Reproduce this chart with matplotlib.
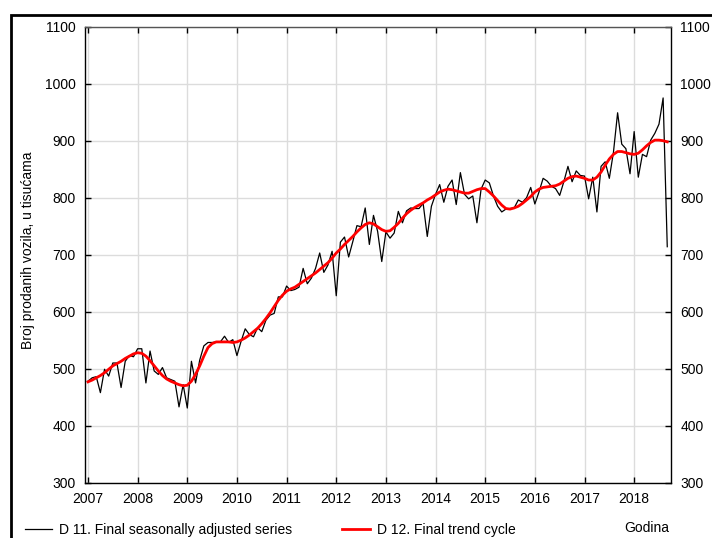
import matplotlib.pyplot as plt
import numpy as np
from matplotlib.patches import Rectangle

plt.rcParams['font.family'] = ['Liberation Sans', 'DejaVu Sans']
plt.rcParams['font.size'] = 10

# D 11 - final seasonally adjusted series, monthly, Jan 2007 - Sep 2018
d11 = [
    478, 484, 486, 458, 499, 487, 510, 510, 467, 513, 523, 521,   # 2007
    535, 535, 475, 531, 496, 490, 502, 484, 481, 478, 433, 472,   # 2008
    431, 513, 475, 515, 540, 546, 546, 547, 547, 557, 546, 551,   # 2009
    523, 548, 570, 560, 556, 572, 565, 585, 594, 597, 626, 626,   # 2010
    645, 637, 639, 643, 676, 649, 659, 676, 703, 669, 682, 706,   # 2011
    628, 722, 731, 696, 723, 751, 749, 782, 718, 769, 741, 688,   # 2012
    740, 729, 738, 776, 756, 777, 782, 781, 781, 790, 732, 785,   # 2013
    806, 823, 792, 820, 831, 788, 844, 806, 798, 803, 756, 815,   # 2014
    831, 826, 803, 785, 775, 780, 781, 782, 796, 792, 800, 818,   # 2015
    789, 810, 834, 829, 820, 816, 804, 828, 855, 828, 847, 839,   # 2016
    838, 798, 836, 775, 855, 863, 834, 880, 949, 894, 886, 842,   # 2017
    916, 836, 876, 872, 901, 913, 929, 975, 714,                  # 2018
]

# D 12 - final trend cycle
d12 = [
    477, 480, 484, 488, 493, 499, 505, 509, 513, 518, 522, 526,
    528, 527, 522, 514, 505, 496, 488, 482, 478, 475, 472, 470,
    471, 478, 490, 505, 522, 537, 544, 547, 547, 547, 547, 546,
    547, 550, 554, 559, 565, 571, 579, 588, 598, 609, 620, 629,
    636, 640, 643, 648, 653, 658, 663, 668, 674, 680, 686, 694,
    703, 710, 718, 725, 732, 740, 747, 753, 756, 754, 749, 744,
    741, 742, 748, 755, 764, 772, 778, 783, 787, 791, 796, 800,
    805, 810, 813, 815, 814, 812, 810, 808, 808, 811, 814, 816,
    816, 810, 803, 795, 787, 781, 780, 782, 785, 790, 796, 802,
    810, 815, 818, 819, 820, 821, 824, 829, 834, 837, 838, 836,
    834, 831, 831, 836, 845, 857, 868, 876, 881, 881, 879, 877,
    876, 878, 884, 891, 897, 901, 901, 900, 898,
]

years = list(range(2007, 2019))
t = 2007 + np.arange(len(d11)) / 12.0

fig = plt.figure(figsize=(7.12, 5.38), dpi=100)
ax = fig.add_axes([85.3 / 712, 1 - 482.7 / 538, 585.4 / 712, 456 / 538])

ax.plot(t, d11, color='black', lw=0.9, label='D 11. Final seasonally adjusted series')
ax.plot(t, d12, color='#ff0000', lw=2.0, label='D 12. Final trend cycle')

ax.set_xlim(2006.946, 2018.736)
ax.set_ylim(300, 1100)
ax.set_xticks(years)
ax.set_yticks(range(300, 1101, 100))
ax.grid(True, color='#dcdcdc', lw=1.0)
ax.set_axisbelow(True)
ax.tick_params(direction='in', top=True, right=True, labelright=True,
               length=4, width=1, colors='black', labelsize=10)
ax.tick_params(axis='y', pad=7)
ax.tick_params(axis='x', pad=7)
for s in ax.spines.values():
    s.set_linewidth(1.0)
ax.spines['top'].set_color('#555555')

fig.text(28 / 712, 1 - 250 / 538, 'Broj prodanih vozila, u tisućama',
         rotation=90, ha='center', va='center', fontsize=10)

leg = fig.legend(loc='center left', bbox_to_anchor=(12 / 712, 1 - 530 / 538),
                 ncol=2, frameon=False, fontsize=10, handlelength=2.0,
                 handletextpad=0.5, columnspacing=3.6)
fig.text(647 / 712, 1 - 528 / 538, 'Godina', ha='center', va='center', fontsize=10)

# outer frame
fig.add_artist(Rectangle((11 / 712, -0.1), 1.2, 1 - 15 / 538 + 0.1,
                         transform=fig.transFigure, fill=False,
                         edgecolor='black', lw=2))

fig.savefig('out.png', dpi=100)
